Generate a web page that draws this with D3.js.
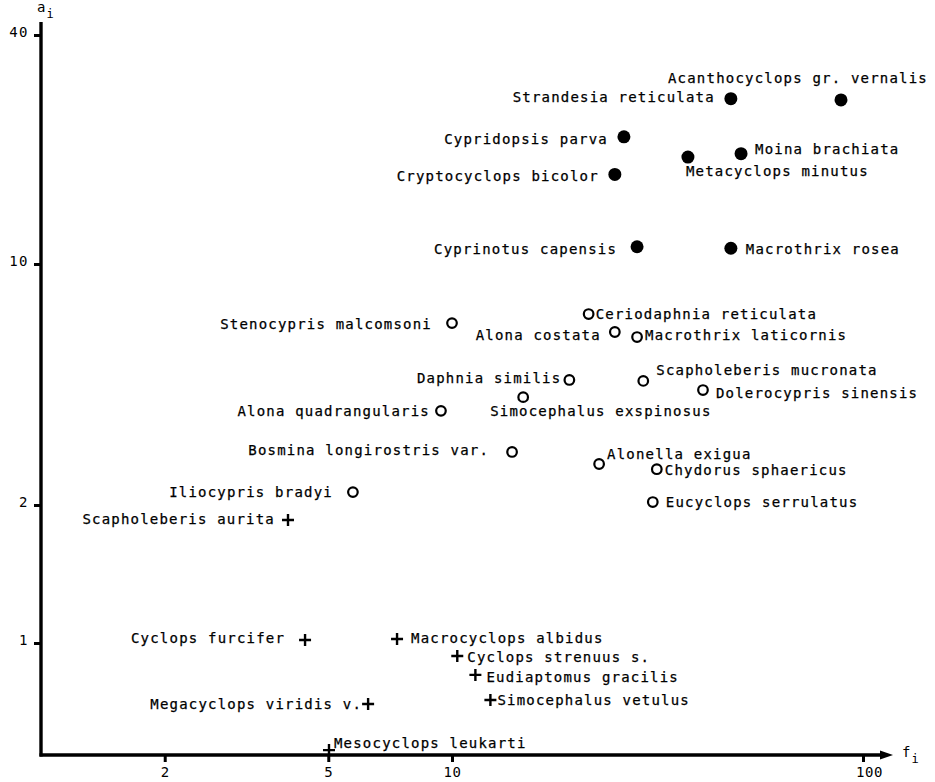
<!DOCTYPE html>
<html>
<head>
<meta charset="utf-8">
<script src="https://cdn.jsdelivr.net/npm/d3@7"></script>
<style>
  html, body { margin: 0; padding: 0; background: #fff; }
  svg { display: block; }
  text { font-family: "DejaVu Sans Mono", "Liberation Mono", monospace; fill: #000; }
</style>
</head>
<body>
<svg id="chart" width="935" height="782"></svg>
<script>
// Species names, grouped by marker type
const filledSpecies = [
  "Strandesia reticulata", "Acanthocyclops gr. vernalis", "Cypridopsis parva",
  "Metacyclops minutus", "Moina brachiata", "Cryptocyclops bicolor",
  "Cyprinotus capensis", "Macrothrix rosea"
];
const filledF = [47.7, 88.4, 26.2, 37.5, 50.5, 24.9, 28.2, 47.7];
const filledA = [27.2, 27.0, 21.6, 19.1, 19.5, 17.2, 11.1, 11.0];

const openSpecies = [
  "Ceriodaphnia reticulata", "Stenocypris malcomsoni", "Alona costata",
  "Macrothrix laticornis", "Daphnia similis", "Scapholeberis mucronata",
  "Dolerocypris sinensis", "Simocephalus exspinosus", "Alona quadrangularis",
  "Bosmina longirostris var.", "Alonella exigua", "Chydorus sphaericus",
  "Iliocypris bradyi", "Eucyclops serrulatus"
];
const openF = [21.5, 10.0, 24.9, 28.2, 19.3, 29.2, 40.8, 14.9, 9.4, 14.0, 22.8, 31.5, 5.74, 30.8];
const openA = [7.16, 6.74, 6.35, 6.14, 4.61, 4.58, 4.31, 4.11, 3.75, 2.85, 2.63, 2.54, 2.18, 2.04];

const plusSpecies = [
  "Scapholeberis aurita", "Cyclops furcifer", "Macrocyclops albidus",
  "Cyclops strenuus s.", "Eudiaptomus gracilis", "Megacyclops viridis v.",
  "Simocephalus vetulus", "Mesocyclops leukarti"
];
const plusF = [3.99, 4.39, 7.35, 10.3, 11.4, 6.25, 12.4, 5.02];
const plusA = [1.855, 1.015, 1.02, 0.937, 0.852, 0.736, 0.751, 0.584];

const xTicks = [2, 5, 10, 100];
const yTicks = [1, 2, 10, 40];

// Label placement: [anchor, dx, dy] relative to the marker centre
const labelPlacement = {
  "Strandesia reticulata": ["end", -16, -2],
  "Acanthocyclops gr. vernalis": ["start", -173, -22],
  "Cypridopsis parva": ["end", -16, 2],
  "Metacyclops minutus": ["start", -2, 14],
  "Moina brachiata": ["start", 14, -5],
  "Cryptocyclops bicolor": ["end", -16, 2],
  "Cyprinotus capensis": ["end", -20, 2],
  "Macrothrix rosea": ["start", 15, 1],
  "Ceriodaphnia reticulata": ["start", 7, 0],
  "Stenocypris malcomsoni": ["end", -20, 1],
  "Alona costata": ["end", -14, 3],
  "Macrothrix laticornis": ["start", 8, -2],
  "Daphnia similis": ["end", -8, -2],
  "Scapholeberis mucronata": ["start", 13, -11],
  "Dolerocypris sinensis": ["start", 13, 3],
  "Simocephalus exspinosus": ["start", -33, 14],
  "Alona quadrangularis": ["end", -11, 0],
  "Bosmina longirostris var.": ["end", -23, -2],
  "Alonella exigua": ["start", 8, -10],
  "Chydorus sphaericus": ["start", 8, 1],
  "Iliocypris bradyi": ["end", -20, 0],
  "Eucyclops serrulatus": ["start", 13, 0],
  "Scapholeberis aurita": ["end", -13, -1],
  "Cyclops furcifer": ["end", -20, -2],
  "Macrocyclops albidus": ["start", 14, -1],
  "Cyclops strenuus s.": ["start", 10, 1],
  "Eudiaptomus gracilis": ["start", 11, 2],
  "Megacyclops viridis v.": ["end", -6, 0],
  "Simocephalus vetulus": ["start", 7, 0],
  "Mesocyclops leukarti": ["start", 5, -7]
};

const svg = d3.select("#chart");
const originX = 41, originY = 755;

// Logarithmic abscissa, one decade ≈ 411 px
const x = d3.scaleLog().domain([1, 100]).range([originX, 863]);

// Ordinate: logarithmic values, piecewise between the labelled ticks
const yLin = d3.scaleLinear()
  .domain(yTicks.map(Math.log10))
  .range([643, 505, 264, 35]);
const y = v => yLin(Math.log10(v));

const labelFont = { size: "14px", spacing: "1.2px" };

// Axis lines with arrow on the abscissa
const axisG = svg.append("g");
axisG.append("line")
  .attr("x1", originX).attr("x2", originX)
  .attr("y1", 22).attr("y2", originY + 1.5)
  .attr("stroke", "#000").attr("stroke-width", 3.4);
axisG.append("line")
  .attr("x1", originX - 1.5).attr("x2", 884)
  .attr("y1", originY).attr("y2", originY)
  .attr("stroke", "#000").attr("stroke-width", 3.4);
axisG.append("path")
  .attr("d", `M880,${originY - 4.5} L893,${originY} L880,${originY + 4.5} Z`)
  .attr("fill", "#000");

const xAxis = d3.axisBottom(x)
  .tickValues(xTicks)
  .tickFormat(d3.format("d"))
  .tickSize(7)
  .tickPadding(5);
const xg = svg.append("g").attr("transform", `translate(0,${originY})`).call(xAxis);
xg.select(".domain").remove();
xg.selectAll(".tick line").attr("stroke", "#000").attr("stroke-width", 3);
xg.selectAll(".tick text")
  .style("font-family", "DejaVu Sans Mono, monospace")
  .style("font-size", "14px")
  .style("letter-spacing", "0.5px")
  .attr("fill", "#000");
xg.selectAll(".tick").filter(d => d === 100).select("text").attr("dx", 6);

const yAxis = d3.axisLeft(yLin)
  .tickValues(yTicks.map(Math.log10))
  .tickFormat(v => d3.format("d")(Math.round(Math.pow(10, v))))
  .tickSize(7)
  .tickPadding(5);
const yg = svg.append("g").attr("transform", `translate(${originX},0)`).call(yAxis);
yg.select(".domain").remove();
yg.selectAll(".tick line").attr("stroke", "#000").attr("stroke-width", 3);
yg.selectAll(".tick text")
  .style("font-family", "DejaVu Sans Mono, monospace")
  .style("font-size", "14px")
  .style("letter-spacing", "1.5px")
  .attr("dy", "0.1em")
  .attr("fill", "#000");

// Axis titles with subscript i
function axisTitle(xp, yp, main) {
  const t = svg.append("text").attr("x", xp).attr("y", yp)
    .style("font-size", "14px");
  t.append("tspan").text(main);
  t.append("tspan").attr("dx", 1).attr("dy", 6).style("font-size", "12px").text("i");
}
axisTitle(37, 12, "a");
axisTitle(902, 757, "f");

// Markers
const marks = svg.append("g");
const toRows = (names, fs, as) => names.map((n, i) => ({ name: n, f: fs[i], a: as[i] }));
const filled = toRows(filledSpecies, filledF, filledA);
const open = toRows(openSpecies, openF, openA);
const plus = toRows(plusSpecies, plusF, plusA);

marks.selectAll("circle.filled").data(filled).join("circle")
  .attr("class", "filled")
  .attr("cx", d => x(d.f)).attr("cy", d => y(d.a))
  .attr("r", 6.5).attr("fill", "#000");

marks.selectAll("circle.open").data(open).join("circle")
  .attr("class", "open")
  .attr("cx", d => x(d.f)).attr("cy", d => y(d.a))
  .attr("r", 4.8).attr("fill", "none")
  .attr("stroke", "#000").attr("stroke-width", 2.2);

marks.selectAll("path.plus").data(plus).join("path")
  .attr("class", "plus")
  .attr("d", d => {
    const cx = x(d.f), cy = y(d.a);
    return `M${cx - 6},${cy} H${cx + 6} M${cx},${cy - 6} V${cy + 6}`;
  })
  .attr("stroke", "#000").attr("stroke-width", 2.4).attr("fill", "none");

// Species labels
const all = filled.concat(open, plus);
svg.append("g").selectAll("text").data(all).join("text")
  .attr("x", d => x(d.f) + labelPlacement[d.name][1])
  .attr("y", d => y(d.a) + labelPlacement[d.name][2])
  .attr("dy", "0.35em")
  .attr("text-anchor", d => labelPlacement[d.name][0])
  .style("font-size", labelFont.size)
  .style("letter-spacing", labelFont.spacing)
  .style("stroke", "#000")
  .style("stroke-width", "0.25px")
  .text(d => d.name);
</script>
</body>
</html>
